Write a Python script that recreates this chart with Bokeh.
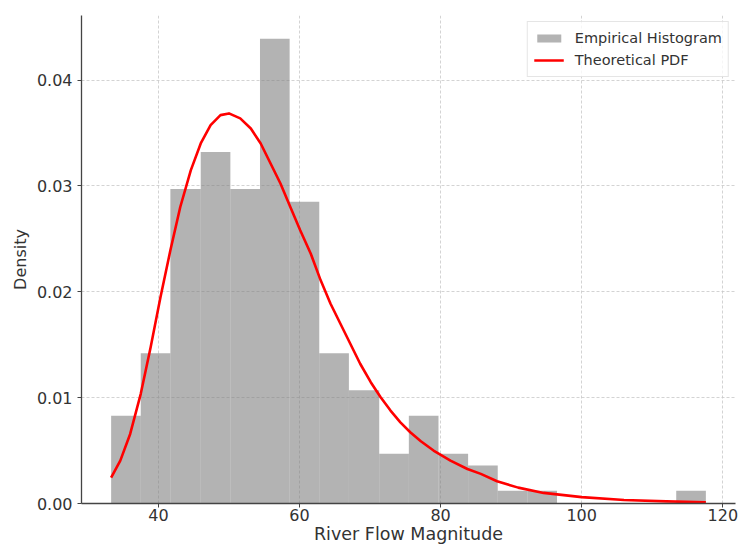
from bokeh.plotting import figure
from bokeh.models import FixedTicker, PrintfTickFormatter, Range1d
from bokeh.embed import file_html
from bokeh.resources import INLINE

# Histogram bin edges and density heights
bin_edges = [33.3, 37.5, 41.7, 46.0, 50.2, 54.4, 58.6, 62.8, 67.0, 71.3, 75.5,
             79.7, 83.9, 88.1, 92.3, 96.5, 100.8, 105.0, 109.2, 113.4, 117.6]
density = [0.0083, 0.0142, 0.0297, 0.0332, 0.0297, 0.0439, 0.0285, 0.0142, 0.0107, 0.0047,
           0.0083, 0.0047, 0.0036, 0.0012, 0.0012, 0.0, 0.0, 0.0, 0.0, 0.0012]

# Theoretical PDF curve
pdf_x = [33.3, 34.6, 36.0, 37.5, 38.9, 40.3, 41.7, 43.1, 44.6, 46.0, 47.4, 48.8, 50.0,
         51.6, 53.1, 54.5, 55.9, 57.3, 58.7, 60.1, 61.6, 63.0, 64.4, 65.8, 67.2, 68.6,
         70.1, 71.5, 72.9, 74.3, 75.7, 77.2, 79.0, 81.4, 83.8, 85.7, 88.0, 91.0, 94.6,
         100.0, 106.0, 112.0, 117.6]
pdf_y = [0.00245, 0.00405, 0.00657, 0.01036, 0.01477, 0.0195, 0.02392, 0.02801, 0.03149,
         0.03401, 0.03574, 0.03669, 0.03685, 0.03638, 0.03543, 0.03401, 0.03212, 0.03023,
         0.02801, 0.02581, 0.0236, 0.02108, 0.01887, 0.01698, 0.01509, 0.0132, 0.01146,
         0.01004, 0.00878, 0.00767, 0.00673, 0.00588, 0.0050, 0.00405, 0.00326, 0.0028,
         0.0021, 0.0015, 0.0010, 0.0006, 0.00033, 0.0002, 0.00012]

x_ticks = [40, 60, 80, 100, 120]
y_ticks = [0.0, 0.01, 0.02, 0.03, 0.04]

FONT = "DejaVu Sans"
TXT = "#333333"

p = figure(width=739, height=547, output_backend="svg", toolbar_location=None,
           x_range=Range1d(29.1, 121.8), y_range=Range1d(0, 0.0461),
           min_border_left=81, min_border_right=4, min_border_top=15, min_border_bottom=44)
p.outline_line_color = None
p.background_fill_color = "white"
p.border_fill_color = "white"

p.quad(left=bin_edges[:-1], right=bin_edges[1:], top=density, bottom=0,
       fill_color="gray", fill_alpha=0.6, line_color=None,
       legend_label="Empirical Histogram")
p.line(pdf_x, pdf_y, line_color="red", line_width=2.6, line_join="round",
       legend_label="Theoretical PDF")

for g in (p.xgrid, p.ygrid):
    g.grid_line_color = "#c8c8c8"
    g.grid_line_dash = "3 2"
    g.grid_line_width = 0.8

p.xaxis.ticker = FixedTicker(ticks=x_ticks)
p.yaxis.ticker = FixedTicker(ticks=y_ticks)
p.yaxis.formatter = PrintfTickFormatter(format="%.2f")

for ax in (p.xaxis, p.yaxis):
    ax.axis_line_color = "#444444"
    ax.axis_line_width = 1.3
    ax.major_tick_line_color = "#444444"
    ax.major_tick_in = 0
    ax.major_tick_out = 4
    ax.minor_tick_line_color = None
    ax.major_label_text_font = FONT
    ax.major_label_text_font_size = "16px"
    ax.major_label_text_color = TXT
    ax.axis_label_text_font = FONT
    ax.axis_label_text_font_style = "normal"
    ax.axis_label_text_color = TXT

p.xaxis.axis_label = "River Flow Magnitude"
p.yaxis.axis_label = "Density"
p.xaxis.axis_label_text_font_size = "17.5px"
p.yaxis.axis_label_text_font_size = "16px"
p.xaxis.major_label_standoff = 1
p.xaxis.axis_label_standoff = 0
p.yaxis.major_label_standoff = 5
p.yaxis.axis_label_standoff = 4

lg = p.legend[0]
lg.location = "top_right"
lg.margin = 6
lg.padding = 6
lg.spacing = 2
lg.glyph_width = 30
lg.glyph_height = 10
lg.label_height = 20
lg.label_standoff = 11
lg.label_text_font = FONT
lg.label_text_font_size = "14.5px"
lg.label_text_color = TXT
lg.border_line_color = "#cccccc"
lg.border_line_width = 1
lg.background_fill_alpha = 0.8

open("out.html", "w").write(file_html(p, INLINE))
